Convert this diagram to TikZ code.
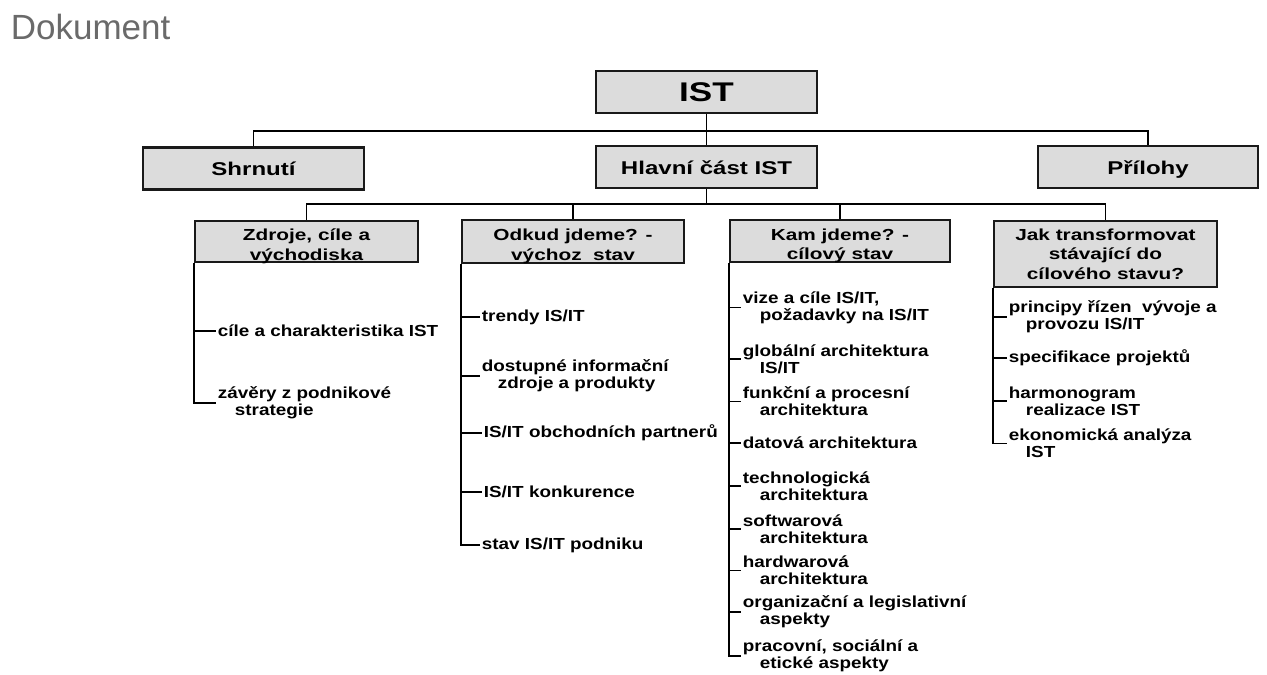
\documentclass[tikz,border=0pt]{standalone}
\usepackage{fontspec}
\setmainfont{Liberation Sans}
\newfontfamily\wideface[FakeStretch=1.3]{Liberation Sans}
\newfontfamily\itemface[FakeStretch=1.18]{Liberation Sans}
\usetikzlibrary{positioning}
\definecolor{boxgray}{HTML}{DCDCDC}
\definecolor{titlegray}{HTML}{6A6A6A}
\newcommand{\boxlines}[1]{\begin{tabular}{@{}c@{}}#1\end{tabular}}
\tikzset{
  topbox/.style={draw=black!90,fill=boxgray,line width=2.2pt,minimum width=221pt,minimum height=42pt,inner sep=0pt},
  partbox/.style={topbox,text height=16pt,text depth=2pt,font=\wideface\bfseries\fontsize{18.5}{20}\selectfont},
  subbox/.style={topbox,minimum width=222pt,font=\wideface\bfseries\fontsize{16}{19.5}\selectfont},
  lowered/.style={text height=20pt,text depth=1pt},
  entry/.style={anchor=west,inner xsep=1.5pt,inner ysep=0pt,align=left,font=\itemface\bfseries\fontsize{16}{17}\selectfont},
}
\begin{document}
\begin{tikzpicture}[x=1pt,y=-1pt,line width=1.8pt]
  \useasboundingbox (0,0) rectangle (1267,675);
  \node[anchor=base west,inner sep=0pt,text=titlegray,font=\fontsize{35}{40}\selectfont] (title) at (10,39) {Dokument};

  % top levels
  \node[topbox,font=\wideface\bfseries\fontsize{27}{30}\selectfont] (ist) at (706.5,92) {IST};
  \node[partbox] (shrnuti) at (253.5,168.5) {Shrnutí};
  \node[partbox] (hlavni)  at (706.5,167)   {Hlavní část IST};
  \node[partbox,minimum width=220pt] (prilohy) at (1148,167) {Přílohy};
  \coordinate (bar1) at (706.5,131);
  \draw (ist) -- (hlavni);
  \draw (shrnuti.north) |- (bar1) -| (prilohy.north);

  % parts of the main section
  \node[subbox,lowered,minimum width=223pt,minimum height=41pt] (zdroje) at (306.5,241.5) {\boxlines{Zdroje, cíle a\\východiska}};
  \node[subbox,lowered,minimum height=43pt] (odkud) at (573,241.5) {\boxlines{Odkud jdeme? -\\výchoz\ \ stav}};
  \node[subbox,lowered,minimum width=220pt] (kam) at (840,241) {\boxlines{Kam jdeme? -\\cílový stav}};
  \node[subbox,align=center,minimum width=223pt,minimum height=66pt] (jak) at (1105.5,254) {Jak transformovat\\stávající do\\cílového stavu?};
  \coordinate (bar2) at (706.5,204);
  \draw (hlavni) -- (bar2);
  \draw (zdroje.north) |- (bar2) -| (jak.north);
  \draw (odkud.north) -- (odkud.north |- bar2);
  \draw (kam.north) -- (kam.north |- bar2);

  % Zdroje
  \node[entry] (z1) at (215.5,331) {cíle a charakteristika IST};
  \node[entry] (z2) at (215.5,403) {závěry z podnikové\\\hspace*{17pt}strategie};
  \draw (zdroje.south west) |- (z2.west);
  \draw (zdroje.west |- z1.west) -- (z1.west);

  % Odkud
  \node[entry] (o1) at (479.5,317) {trendy IS/IT};
  \node[entry] (o2) at (479.5,376) {dostupné informační\\\hspace*{16pt}zdroje a produkty};
  \node[entry] (o3) at (481.5,433) {IS/IT obchodních partnerů};
  \node[entry] (o4) at (481.5,492) {IS/IT konkurence};
  \node[entry] (o5) at (479.5,545) {stav IS/IT podniku};
  \draw (odkud.south west) |- (o5.west);
  \draw (odkud.west |- o1.west) -- (o1.west);
  \draw (odkud.west |- o2.west) -- (o2.west);
  \draw (odkud.west |- o3.west) -- (o3.west);
  \draw (odkud.west |- o4.west) -- (o4.west);

  % Kam
  \node[entry] (k1) at (740.5,307.5) {vize a cíle IS/IT,\\\hspace*{17pt}požadavky na IS/IT};
  \node[entry] (k2) at (740.5,359)   {globální architektura\\\hspace*{17pt}IS/IT};
  \node[entry] (k3) at (740.5,401.5) {funkční a procesní\\\hspace*{17pt}architektura};
  \node[entry] (k4) at (740.5,443)   {datová architektura};
  \node[entry] (k5) at (740.5,486)   {technologická\\\hspace*{17pt}architektura};
  \node[entry] (k6) at (740.5,529)   {softwarová\\\hspace*{17pt}architektura};
  \node[entry] (k7) at (740.5,570.5) {hardwarová\\\hspace*{17pt}architektura};
  \node[entry] (k8) at (740.5,612)   {organizační a legislativní\\\hspace*{17pt}aspekty};
  \node[entry] (k9) at (740.5,656)   {pracovní, sociální a\\\hspace*{17pt}etické aspekty};
  \draw (kam.south west) |- (k9.west);
  \draw (kam.west |- k1.west) -- (k1.west);
  \draw (kam.west |- k2.west) -- (k2.west);
  \draw (kam.west |- k3.west) -- (k3.west);
  \draw (kam.west |- k4.west) -- (k4.west);
  \draw (kam.west |- k5.west) -- (k5.west);
  \draw (kam.west |- k6.west) -- (k6.west);
  \draw (kam.west |- k7.west) -- (k7.west);
  \draw (kam.west |- k8.west) -- (k8.west);

  % Jak
  \node[entry] (j1) at (1006.5,317)   {principy řízen\ \ vývoje a\\\hspace*{17pt}provozu IS/IT};
  \node[entry] (j2) at (1006.5,358)   {specifikace projektů};
  \node[entry] (j3) at (1006.5,401)   {harmonogram\\\hspace*{17pt}realizace IST};
  \node[entry] (j4) at (1006.5,443.5) {ekonomická analýza\\\hspace*{17pt}IST};
  \draw (jak.south west) |- (j4.west);
  \draw (jak.west |- j1.west) -- (j1.west);
  \draw (jak.west |- j2.west) -- (j2.west);
  \draw (jak.west |- j3.west) -- (j3.west);
\end{tikzpicture}
\end{document}
